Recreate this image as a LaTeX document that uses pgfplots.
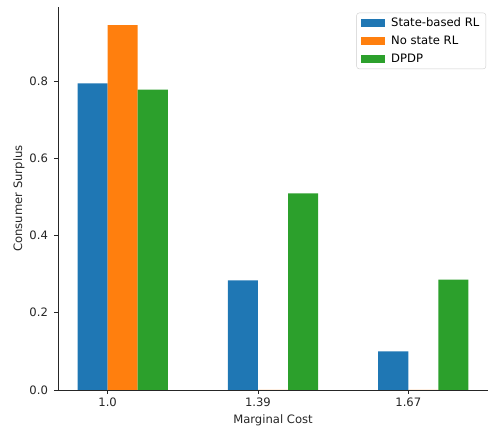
\documentclass[border=0pt]{standalone}
\usepackage{pgfplots}
\pgfplotsset{compat=1.18}
\usepackage{fontspec}
\setmainfont{DejaVu Sans}
\definecolor{tabblue}{HTML}{1F77B4}
\definecolor{taborange}{HTML}{FF7F0E}
\definecolor{tabgreen}{HTML}{2CA02C}
\definecolor{spine}{HTML}{262626}
\newcommand{\fs}{\fontsize{11.6}{13.9}\selectfont}
\begin{document}
\fs
\begin{tikzpicture}
\begin{axis}[
  scale only axis,
  width=430pt, height=383pt,
  axis lines*=left,
  axis line style={spine, line width=0.93pt},
  ybar, bar width=0.2,
  xmin=-0.33, xmax=2.53,
  ymin=0, ymax=0.9917,
  xtick={0,1,2}, xticklabels={1.0,1.39,1.67},
  ytick={0,0.2,0.4,0.6,0.8},
  tick align=outside,
  major tick length=4pt,
  tick style={spine, line width=0.93pt},
  /pgf/number format/assume math mode=true,
  yticklabel style={/pgf/number format/fixed, /pgf/number format/fixed zerofill, /pgf/number format/precision=1, text=spine, xshift=-2pt},
  xticklabel style={text=spine},
  ticklabel style={font=\fs},
  xlabel={Marginal Cost}, ylabel={Consumer Surplus},
  label style={font=\fs, text=spine},
  xlabel style={yshift=0pt},
  ylabel style={yshift=-3pt},
  legend style={at={(rel axis cs:1,1)}, anchor=north east, xshift=-2pt, yshift=-5.7pt,
    draw=black!20, rounded corners=2.5pt, font=\fs,
    inner xsep=4.5pt, inner ysep=3pt, row sep=3.5pt,
    /tikz/every odd column/.append style={column sep=4pt}},
  legend cell align=left,
  legend image code/.code={\fill[#1, sharp corners] (0pt,-4pt) rectangle (24pt,4pt);},
]
\addplot[fill=tabblue, draw=none, bar shift=-0.1] coordinates {(0,0.794) (1,0.284) (2,0.0998)};
\addplot[fill=taborange, draw=none, bar shift=0.1] coordinates {(0,0.9445) (1,0) (2,0)};
\addplot[fill=tabgreen, draw=none, bar shift=0.3] coordinates {(0,0.778) (1,0.509) (2,0.2856)};
\legend{State-based RL, No state RL, DPDP}
\end{axis}
\pgfresetboundingbox
\useasboundingbox ([shift={(-58pt,-40pt)}]current axis.south west) rectangle ([shift={(0pt,7pt)}]current axis.north east);
\end{tikzpicture}
\end{document}
